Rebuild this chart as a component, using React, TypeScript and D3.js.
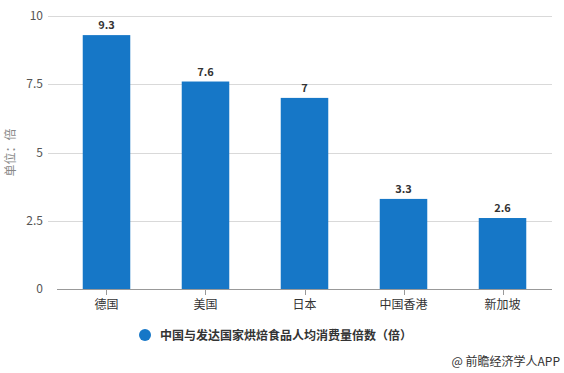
import { useEffect, useRef } from "react";
import * as d3 from "d3";

const categories = ["德国", "美国", "日本", "中国香港", "新加坡"];
const values = [9.3, 7.6, 7, 3.3, 2.6];
const yTicks = [0, 2.5, 5, 7.5, 10];
const seriesName = "中国与发达国家烘焙食品人均消费量倍数（倍）";

const font = "'Microsoft YaHei', 'Noto Sans CJK SC', sans-serif";

export default function App() {
  const svgRef = useRef<SVGSVGElement>(null);

  useEffect(() => {
    if (!svgRef.current) return;
    const svg = d3.select(svgRef.current);
    svg.selectAll("*").remove();

    const x = d3.scaleBand().domain(categories).range([57, 552]).paddingInner(0.52).paddingOuter(0.26);
    const y = d3.scaleLinear().domain([0, 10]).range([289, 16]);

    // grid
    svg
      .append("g")
      .selectAll("line")
      .data(yTicks.filter((t) => t > 0))
      .join("line")
      .attr("x1", 48)
      .attr("x2", 552)
      .attr("y1", (d) => Math.round(y(d)) + 0.5)
      .attr("y2", (d) => Math.round(y(d)) + 0.5)
      .attr("stroke", "#d9d9d9");

    // y labels
    svg
      .append("g")
      .selectAll("text")
      .data(yTicks)
      .join("text")
      .attr("x", 43)
      .attr("y", (d) => y(d) + 4)
      .attr("text-anchor", "end")
      .style("font-family", font)
      .style("font-size", "12px")
      .style("fill", "#555")
      .text((d) => String(d));

    // bars
    svg
      .append("g")
      .selectAll("rect")
      .data(values)
      .join("rect")
      .attr("x", (_, i) => x(categories[i])!)
      .attr("y", (d) => y(d))
      .attr("width", x.bandwidth())
      .attr("height", (d) => y(0) - y(d))
      .attr("fill", "#1677c7");

    // value labels
    svg
      .append("g")
      .selectAll("text")
      .data(values)
      .join("text")
      .attr("x", (_, i) => x(categories[i])! + x.bandwidth() / 2)
      .attr("y", (d) => y(d) - 6)
      .attr("text-anchor", "middle")
      .style("font-family", font)
      .style("font-size", "11px")
      .style("font-weight", "bold")
      .style("fill", "#333")
      .text((d) => String(d));

    // x axis
    const xAxis = svg.append("g");
    xAxis
      .append("line")
      .attr("x1", 57)
      .attr("x2", 552)
      .attr("y1", 289.5)
      .attr("y2", 289.5)
      .attr("stroke", "#999");
    xAxis
      .selectAll("line.tick")
      .data(categories)
      .join("line")
      .attr("class", "tick")
      .attr("x1", (d) => Math.round(x(d)! + x.bandwidth() / 2) + 0.5)
      .attr("x2", (d) => Math.round(x(d)! + x.bandwidth() / 2) + 0.5)
      .attr("y1", 289)
      .attr("y2", 295)
      .attr("stroke", "#999");
    xAxis
      .selectAll("text")
      .data(categories)
      .join("text")
      .attr("x", (d) => x(d)! + x.bandwidth() / 2)
      .attr("y", 309)
      .attr("text-anchor", "middle")
      .style("font-family", font)
      .style("font-size", "12px")
      .style("fill", "#333")
      .text((d) => d);

    // y title
    svg
      .append("text")
      .attr("transform", `translate(15,${y(5)}) rotate(-90)`)
      .attr("text-anchor", "middle")
      .style("font-family", font)
      .style("font-size", "12px")
      .style("fill", "#888")
      .text("单位：倍");

    // legend
    svg.append("circle").attr("cx", 145).attr("cy", 335).attr("r", 6).attr("fill", "#1677c7");
    svg
      .append("text")
      .attr("x", 160)
      .attr("y", 340)
      .style("font-family", font)
      .style("font-size", "12px")
      .style("font-weight", "bold")
      .style("fill", "#333")
      .text(seriesName);

    // source
    svg
      .append("text")
      .attr("x", 560)
      .attr("y", 366)
      .attr("text-anchor", "end")
      .style("font-family", font)
      .style("font-size", "12px")
      .style("fill", "#333")
      .text("@ 前瞻经济学人APP");
  }, []);

  return (
    <svg
      ref={svgRef}
      width={564}
      height={373}
      style={{ position: "absolute", left: 0, top: 0, background: "#fff" }}
    />
  );
}
